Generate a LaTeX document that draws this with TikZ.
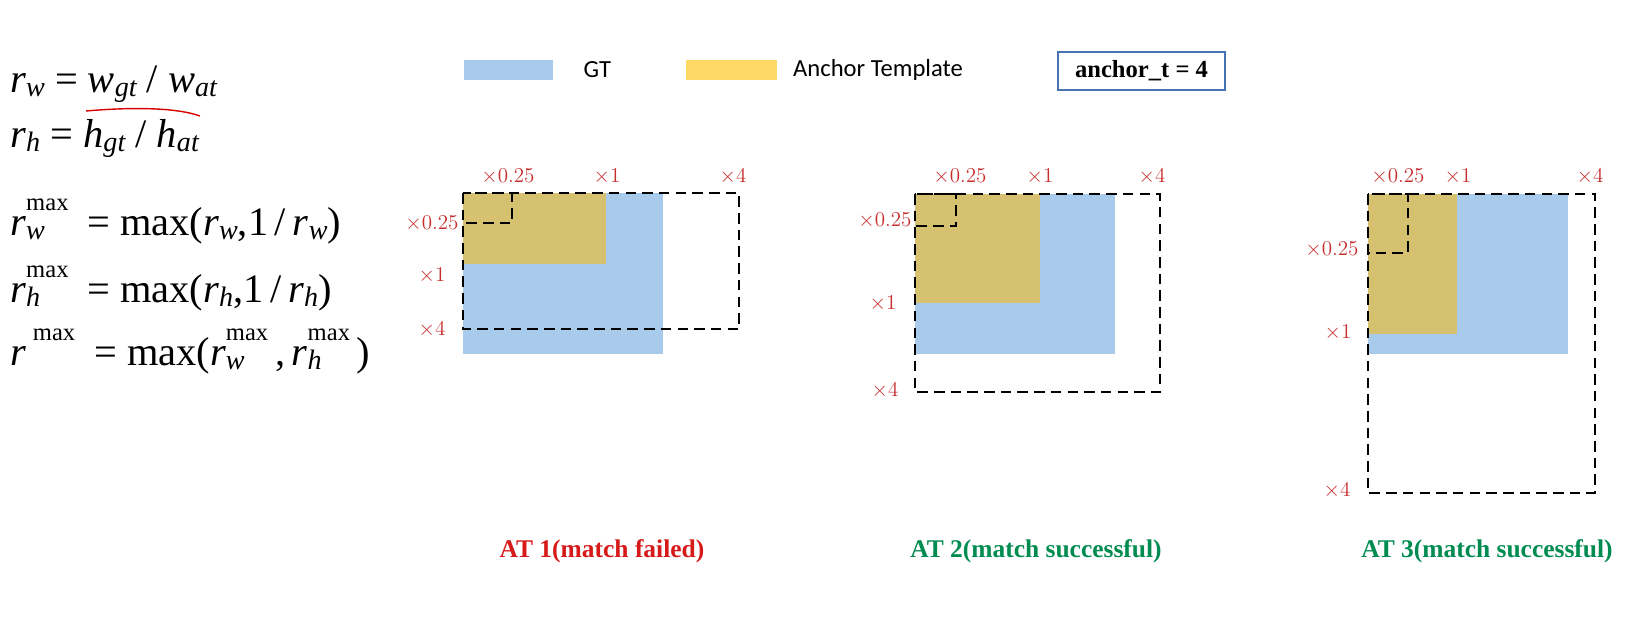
\documentclass[tikz,border=0pt]{standalone}
\usepackage{fontspec}
\newfontfamily\tnr{Liberation Serif}
\newfontfamily\keyfont{Carlito}
\usetikzlibrary{arrows.meta, positioning}

\definecolor{gtblue}{RGB}{169,203,235}
\definecolor{atyellow}{RGB}{255,217,102}
\definecolor{atmix}{RGB}{214,193,112}
\definecolor{tickred}{RGB}{200,45,45}
\definecolor{failred}{RGB}{215,25,25}
\definecolor{okgreen}{RGB}{0,140,80}
\definecolor{boxblue}{RGB}{70,115,180}

\newcommand{\eqsub}[1]{\raisebox{-2.5pt}{\fontsize{16}{16}\selectfont\itshape #1}}
\newcommand{\eqsup}[1]{\raisebox{14pt}{\fontsize{14}{14}\selectfont #1}}
\newcommand{\eqsupsub}[2]{\eqsup{\makebox[0pt][l]{\raisebox{-16.5pt}{\fontsize{16}{16}\selectfont\itshape #2}}#1}}

\begin{document}
\begin{tikzpicture}[
  x=0.02cm, y=-0.02cm,
  dbox/.style={draw=black, line width=1.5pt, dash pattern=on 6pt off 3.5pt},
  tick/.style={font=\fontsize{13}{13}\selectfont, text=tickred, inner sep=0pt},
  ttl/.style={font=\tnr\bfseries\fontsize{14.5}{16}\selectfont, inner sep=0pt},
  eq/.style={anchor=base west, inner sep=0pt, font=\tnr\fontsize{23}{26}\selectfont},
  keytext/.style={font=\keyfont\fontsize{14}{15}\selectfont, inner sep=0pt, anchor=west},
]
\useasboundingbox (0,0) rectangle (1628,626);

%% Formulas
\node[eq] (eqw) at (10,92) {\textit{r}\eqsub{w} = \textit{w}\eqsub{gt} / \textit{w}\eqsub{at}};
\node[eq] (eqh) at (10,147) {\textit{r}\eqsub{h} = \textit{h}\eqsub{gt} / \textit{h}\eqsub{at}};
\node[eq] (eqwm) at (10,235) {\textit{r}\eqsupsub{max}{w}\hspace{5pt} = max(\textit{r}\eqsub{w},1\,/\,\textit{r}\eqsub{w})};
\node[eq] (eqhm) at (10,302) {\textit{r}\eqsupsub{max}{h}\hspace{5pt} = max(\textit{r}\eqsub{h},1\,/\,\textit{r}\eqsub{h})};
\node[eq] (eqm) at (10,365) {\textit{r}\,\eqsup{max}\hspace{5pt} = max(\textit{r}\eqsupsub{max}{w}\,,\,\textit{r}\eqsupsub{max}{h}\,)};

% pen mark under w_gt / w_at
\draw[red!85!black, line width=0.8pt] (86,111) .. controls (120,108) and (172,106) .. (200,116);

%% Legend
\node[fill=gtblue, minimum width=1.78cm, minimum height=0.4cm, inner sep=0pt] (gtkey) at (508.5,70) {};
\node[keytext, right=0.6cm of gtkey] (gtlbl) {GT};
\node[fill=atyellow, minimum width=1.82cm, minimum height=0.4cm, inner sep=0pt] (atkey) at (731,70) {};
\node[keytext, right=0.32cm of atkey] (atlbl) {Anchor Template};
\node[draw=boxblue, line width=1pt, minimum width=3.34cm, minimum height=0.76cm,
      font=\tnr\bfseries\fontsize{14}{16}\selectfont] (thr) at (1141.5,71) {anchor\_t = 4};

%% Boxes: origin / GT corner / anchor corner / x4 corner / x0.25 corner
\foreach \ox/\oy/\gx/\gy/\ax/\ay/\bx/\by/\sx/\sy in {
    463/193/663/354/606/264/739/329/512/223,
    915/194/1115/354/1040/303/1160/392/956/226,
    1368/194/1568/354/1457/334/1595/493/1408/253} {
  \fill[gtblue] (\ox,\oy) rectangle (\gx,\gy);
  \fill[atmix] (\ox,\oy) rectangle (\ax,\ay);
  \draw[dbox] (\ox,\oy) rectangle (\bx,\by);
  \draw[dbox] (\ox,\oy) rectangle (\sx,\sy);
}

%% AT 1
\node[tick] (a1tq) at (508,177) {$\times0.25$};
\node[tick] (a1to) at (607,177) {$\times1$};
\node[tick] (a1tf) at (733,177) {$\times4$};
\node[tick] (a1lq) at (432,224) {$\times0.25$};
\node[tick] (a1lo) at (432,276) {$\times1$};
\node[tick] (a1lf) at (432,330) {$\times4$};
\node[ttl, text=failred] (at1) at (602,551) {AT 1(match failed)};

%% AT 2
\node[tick] (a2tq) at (960,177) {$\times0.25$};
\node[tick] (a2to) at (1040,177) {$\times1$};
\node[tick] (a2tf) at (1152,177) {$\times4$};
\node[tick] (a2lq) at (885,221) {$\times0.25$};
\node[tick] (a2lo) at (883,304) {$\times1$};
\node[tick] (a2lf) at (885,391) {$\times4$};
\node[ttl, text=okgreen] (at2) at (1036,551) {AT 2(match successful)};

%% AT 3
\node[tick] (a3tq) at (1398,177) {$\times0.25$};
\node[tick] (a3to) at (1458,177) {$\times1$};
\node[tick] (a3tf) at (1590,177) {$\times4$};
\node[tick] (a3lq) at (1332,250) {$\times0.25$};
\node[tick] (a3lo) at (1338,333) {$\times1$};
\node[tick] (a3lf) at (1337,491) {$\times4$};
\node[ttl, text=okgreen] (at3) at (1487,551) {AT 3(match successful)};

\end{tikzpicture}
\end{document}
